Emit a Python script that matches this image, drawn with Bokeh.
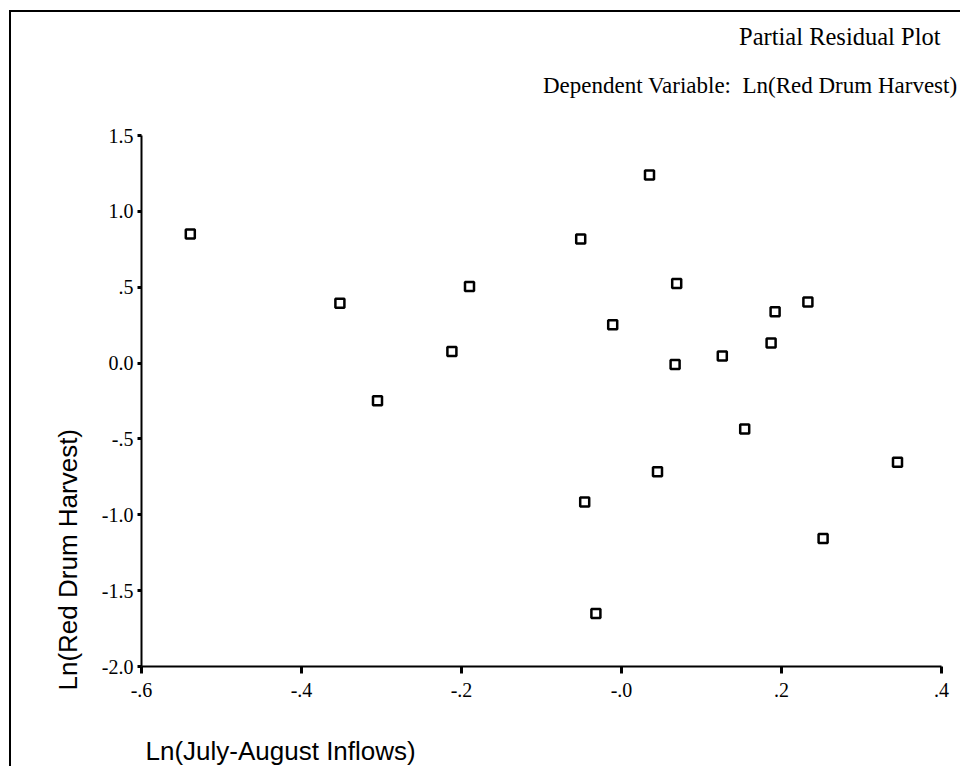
import math
from bokeh.plotting import figure
from bokeh.models import FixedTicker, ColumnDataSource, Range1d, Label
from bokeh.embed import file_html
from bokeh.resources import INLINE

# ---- data ----
inflow = [-0.539, -0.352, -0.305, -0.212, -0.190, -0.051, -0.046, -0.032, 0.035, -0.011,
          0.045, 0.069, 0.067, 0.126, 0.154, 0.187, 0.192, 0.233, 0.252, 0.345]
harvest = [0.851, 0.395, -0.248, 0.077, 0.505, 0.818, -0.916, -1.651, 1.239, 0.252,
           -0.717, 0.524, -0.009, 0.046, -0.434, 0.132, 0.338, 0.403, -1.156, -0.653]

x_ticks = [-0.6, -0.4, -0.2, 0.0, 0.2, 0.4]
x_tick_labels = ["-.6", "-.4", "-.2", "-.0", ".2", ".4"]
y_ticks = [1.5, 1.0, 0.5, 0.0, -0.5, -1.0, -1.5, -2.0]
y_tick_labels = ["1.5", "1.0", ".5", "0.0", "-.5", "-1.0", "-1.5", "-2.0"]
x_bounds = (-0.6, 0.4)
y_bounds = (-2.0, 1.5)

title_text = "Partial Residual Plot"
subtitle_text = "Dependent Variable:\u00a0 Ln(Red Drum Harvest)"
x_label_text = "Ln(July-August Inflows)"
y_label_text = "Ln(Red Drum Harvest)"

SERIF = "Liberation Serif"
SANS = "Liberation Sans"

# canvas 951 x 756 px; the axes box spans 800 x 531 px inside it
W, H = 951, 756
AX_L, AX_R, AX_T, AX_B = 130, 21, 123, 102
xs = (x_bounds[1] - x_bounds[0]) / (W - AX_L - AX_R)
ys = (y_bounds[1] - y_bounds[0]) / (H - AX_T - AX_B)

p = figure(width=W, height=H, output_backend="svg", toolbar_location=None, title=None,
           x_range=Range1d(x_bounds[0] - AX_L * xs, x_bounds[1] + AX_R * xs),
           y_range=Range1d(y_bounds[0] - AX_B * ys, y_bounds[1] + AX_T * ys),
           min_border_left=0, min_border_right=0, min_border_top=0, min_border_bottom=0)
p.styles = {"border-left": "2px solid black", "border-top": "2px solid black",
            "margin-left": "9px", "margin-top": "10px"}
p.outline_line_color = None
p.xgrid.visible = False
p.ygrid.visible = False
p.background_fill_color = "white"
p.border_fill_color = "white"

for ax in (p.xaxis[0], p.yaxis[0]):
    ax.axis_line_width = 2
    ax.axis_line_color = "black"
    ax.major_tick_line_width = 3
    ax.major_tick_line_color = "black"
    ax.major_tick_in = 0
    ax.minor_tick_line_color = None
    ax.major_label_text_font = SERIF
    ax.major_label_text_font_size = "20px"
    ax.major_label_text_color = "black"

xa = p.xaxis[0]
xa.ticker = FixedTicker(ticks=x_ticks)
xa.major_label_overrides = {t: l for t, l in zip(x_ticks, x_tick_labels)}
xa.major_tick_out = 7
xa.major_label_standoff = 9
xa.bounds = x_bounds
xa.fixed_location = y_bounds[0]

ya = p.yaxis[0]
ya.ticker = FixedTicker(ticks=y_ticks)
ya.major_label_overrides = {t: l for t, l in zip(y_ticks, y_tick_labels)}
ya.major_tick_out = 4
ya.major_label_standoff = 4
ya.bounds = y_bounds
ya.fixed_location = x_bounds[0]

src = ColumnDataSource(data=dict(x=inflow, y=harvest))
p.scatter("x", "y", source=src, marker="square", size=9, line_width=2.5,
          line_color="black", fill_color="white")

# texts, in pixels from the canvas' bottom-left corner
p.add_layout(Label(x=929, y=H - 24, x_units="screen", y_units="screen", text=title_text,
                   text_font=SERIF, text_font_size="24.5px", text_align="right",
                   text_baseline="middle", text_color="black"))
p.add_layout(Label(x=946, y=H - 73, x_units="screen", y_units="screen", text=subtitle_text,
                   text_font=SERIF, text_font_size="23px", text_align="right",
                   text_baseline="middle", text_color="black"))
p.add_layout(Label(x=134, y=H - 738, x_units="screen", y_units="screen", text=x_label_text,
                   text_font=SANS, text_font_size="26px", text_align="left",
                   text_baseline="middle", text_color="black"))
p.add_layout(Label(x=56, y=H - 678, x_units="screen", y_units="screen", text=y_label_text,
                   angle=math.pi / 2, text_font=SANS, text_font_size="26px",
                   text_align="left", text_baseline="middle", text_color="black"))

open("out.html", "w").write(file_html(p, INLINE))
